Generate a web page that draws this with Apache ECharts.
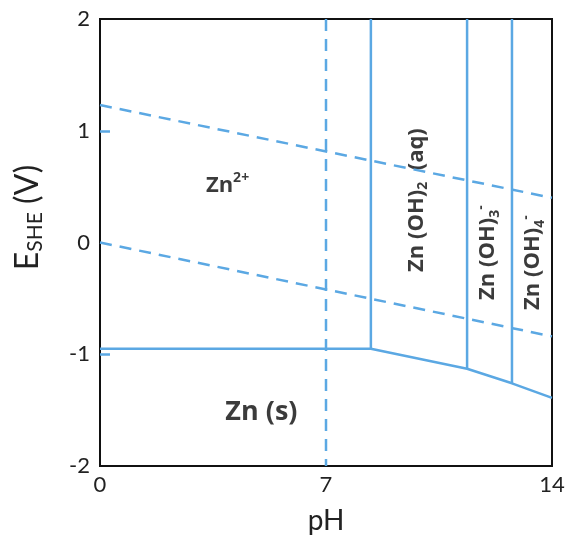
<!DOCTYPE html>
<html>
<head>
<meta charset="utf-8">
<script src="https://cdn.jsdelivr.net/npm/echarts@6/dist/echarts.min.js"></script>
<style>html,body{margin:0;padding:0;background:#fff;}#c{width:569px;height:535px;}</style>
</head>
<body>
<div id="c"></div>
<script>
// ---- data ----
var xTicks = [0, 7, 14];
var yTicks = [2, 1, 0, -1, -2];
var o2Line = [[0, 1.23], [14, 0.40]];          // upper water line (dashed)
var h2Line = [[0, 0.0], [14, -0.84]];          // lower water line (dashed)
var neutralLine = [[7, 2], [7, -2]];           // pH 7 (dashed)
var znBoundary = [[0, -0.95], [8.39, -0.95], [11.37, -1.13], [12.76, -1.26], [14, -1.39]];
var vBound1 = [[8.39, 2], [8.39, -0.95]];
var vBound2 = [[11.37, 2], [11.37, -1.13]];
var vBound3 = [[12.76, 2], [12.76, -1.26]];
var regionLabels = [
  {name: 'zn2', pos: [3.95, 0.51]},
  {name: 'zns', pos: [5.0, -1.52]},
  {name: 'oh2', pos: [9.8, 0.38]},
  {name: 'oh3', pos: [12.02, -0.09]},
  {name: 'oh4', pos: [13.4, -0.18]}
];

var BLUE = '#5ba8e3';
var FONT = 'Lato';
var BFONT = 'Open Sans';
var chart = echarts.init(document.getElementById('c'));

function lineSeries(data, dashed) {
  return {
    type: 'line', data: data, symbol: 'none', silent: true, animation: false,
    lineStyle: {color: BLUE, width: 2.5, type: dashed ? [12, 8] : 'solid'}
  };
}

var labelTexts = {
  zn2: '{z|Zn}{sup|2+}',
  zns: '{big|Zn (s)}',
  oh2: '{b|Zn (OH)}{sub|2}{b|  (aq)}',
  oh3: '{b|Zn (OH)}{sub|3}{sup|-}',
  oh4: '{b|Zn (OH)}{sub|4}{sup|-}'
};
var rich = {
  z: {fontFamily: BFONT, fontWeight: 'bold', fontSize: 22, color: '#0a0a0a', lineHeight: 28},
  b: {fontFamily: BFONT, fontWeight: 'bold', fontSize: 22, color: '#0a0a0a', lineHeight: 28},
  big: {fontFamily: BFONT, fontWeight: 'bold', fontSize: 27, color: '#0a0a0a', lineHeight: 30},
  sub: {fontFamily: BFONT, fontWeight: 'bold', fontSize: 14, color: '#0a0a0a', verticalAlign: 'bottom', lineHeight: 14},
  sup: {fontFamily: BFONT, fontWeight: 'bold', fontSize: 14, color: '#0a0a0a', verticalAlign: 'top', lineHeight: 14}
};

var option = {
  animation: false,
  grid: {left: 100, right: 17, top: 19, bottom: 69, show: true, borderColor: '#111', borderWidth: 2,
    backgroundColor: 'transparent', outerBoundsMode: 'none', containLabel: false},
  xAxis: {
    type: 'value', min: 0, max: 14, interval: 7,
    name: 'pH', nameLocation: 'middle', nameGap: 41,
    nameTextStyle: {fontFamily: FONT, fontSize: 28, color: '#222'},
    axisLine: {show: false}, axisTick: {show: false}, splitLine: {show: false},
    axisLabel: {fontFamily: FONT, fontSize: 22, color: '#222', margin: 8,
      customValues: xTicks}
  },
  yAxis: {
    type: 'value', min: -2, max: 2, interval: 1,
    name: '{e|E}{s|SHE}{e| (V)}', nameLocation: 'middle', nameGap: 54,
    nameTextStyle: {padding: [0, 0, 0, 50], rich: {
      e: {fontFamily: FONT, fontSize: 32, color: '#222', lineHeight: 36},
      s: {fontFamily: FONT, fontSize: 21, color: '#222', verticalAlign: 'bottom', lineHeight: 18}
    }},
    axisLine: {show: false}, splitLine: {show: false},
    axisTick: {show: true, inside: true, length: 10, lineStyle: {color: BLUE, width: 2.5}, customValues: [1, -1]},
    axisLabel: {fontFamily: FONT, fontSize: 22, color: '#222', margin: 10, customValues: yTicks}
  },
  series: [
    lineSeries(o2Line, true),
    lineSeries(h2Line, true),
    lineSeries(neutralLine, true),
    lineSeries(znBoundary, false),
    lineSeries(vBound1, false),
    lineSeries(vBound2, false),
    lineSeries(vBound3, false),
    {
      type: 'scatter', symbolSize: 0, silent: true,
      label: {show: true, position: [0, 0], align: 'center', verticalAlign: 'middle',
        color: '#0a0a0a', fontFamily: BFONT, fontWeight: 'bold', fontSize: 22, rich: rich},
      data: regionLabels.map(function (d) {
        var rot = (d.name === 'zn2' || d.name === 'zns') ? 0 : 90;
        return {value: d.pos, label: {rotate: rot, formatter: labelTexts[d.name]}};
      })
    }
  ]
};
chart.setOption(option);
</script>
</body>
</html>
